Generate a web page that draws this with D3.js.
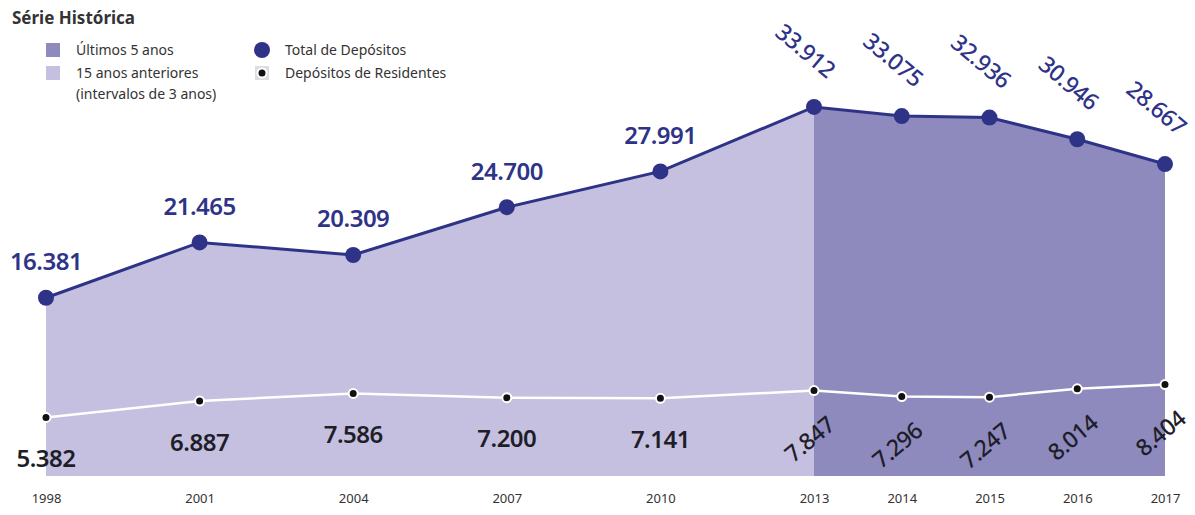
<!DOCTYPE html>
<html>
<head>
<meta charset="utf-8">
<script src="https://cdn.jsdelivr.net/npm/d3@7"></script>
<style>
  body { margin: 0; background: #fff; }
  svg { font-family: "Noto Sans", "Open Sans", sans-serif; }
</style>
</head>
<body>
<svg id="chart" width="1195" height="515"></svg>
<script>
// data
const years = [1998, 2001, 2004, 2007, 2010, 2013, 2014, 2015, 2016, 2017];
const totalDepositos = [16381, 21465, 20309, 24700, 27991, 33912, 33075, 32936, 30946, 28667];
const depositosResidentes = [5382, 6887, 7586, 7200, 7141, 7847, 7296, 7247, 8014, 8404];
const valueLabels = v => d3.format(",")(v).replace(",", ".");

const W = 1195, H = 515;
const DARK = "#2e3388";
const LIGHT_FILL = "#c5c0df";
const DARK_FILL = "#8e8abd";

const svg = d3.select("#chart");

// 3-year steps up to 2013, then yearly
const x = d3.scaleLinear()
  .domain([1998, 2013, 2017])
  .range([46, 814, 1165]);

const y = d3.scaleLinear()
  .domain([0, 34000])
  .range([476, 106]);

const rows = years.map((yr, i) => ({ year: yr, total: totalDepositos[i], res: depositosResidentes[i] }));
const splitIdx = years.indexOf(2013);

const area = d3.area()
  .x(d => x(d.year))
  .y0(y(0))
  .y1(d => y(d.total));

svg.append("path")
  .datum(rows.slice(0, splitIdx + 1))
  .attr("fill", LIGHT_FILL)
  .attr("d", area);

svg.append("path")
  .datum(rows.slice(splitIdx))
  .attr("fill", DARK_FILL)
  .attr("d", area);

// total line
const lineTotal = d3.line().x(d => x(d.year)).y(d => y(d.total));
svg.append("path")
  .datum(rows)
  .attr("fill", "none")
  .attr("stroke", DARK)
  .attr("stroke-width", 3)
  .attr("d", lineTotal);

svg.selectAll(".dot-total")
  .data(rows)
  .enter().append("circle")
  .attr("class", "dot-total")
  .attr("cx", d => x(d.year))
  .attr("cy", d => y(d.total))
  .attr("r", 8)
  .attr("fill", DARK);

// residents line
const lineRes = d3.line().x(d => x(d.year)).y(d => y(d.res));
svg.append("path")
  .datum(rows)
  .attr("fill", "none")
  .attr("stroke", "#fff")
  .attr("stroke-width", 2.5)
  .attr("d", lineRes);

svg.selectAll(".dot-res")
  .data(rows)
  .enter().append("circle")
  .attr("class", "dot-res")
  .attr("cx", d => x(d.year))
  .attr("cy", d => y(d.res))
  .attr("r", 4.5)
  .attr("fill", "#111")
  .attr("stroke", "#fff")
  .attr("stroke-width", 2);

// total labels
svg.selectAll(".lbl-total")
  .data(rows)
  .enter().append("text")
  .attr("class", "lbl-total")
  .attr("font-size", (d, i) => i < splitIdx ? 24 : 23)
  .attr("font-weight", (d, i) => i < splitIdx ? 600 : 500)
  .attr("letter-spacing", -0.5)
  .attr("fill", DARK)
  .attr("text-anchor", "middle")
  .attr("dominant-baseline", "central")
  .attr("transform", (d, i) => i < splitIdx
    ? `translate(${x(d.year)},${y(d.total) - 37})`
    : `translate(${x(d.year) - 8},${y(d.total) - 57}) rotate(40)`)
  .text(d => valueLabels(d.total));

// residents labels
svg.selectAll(".lbl-res")
  .data(rows)
  .enter().append("text")
  .attr("class", "lbl-res")
  .attr("font-size", (d, i) => i < splitIdx ? 24 : 23)
  .attr("font-weight", (d, i) => i < splitIdx ? 600 : 500)
  .attr("letter-spacing", -0.5)
  .attr("fill", "#1e1e2a")
  .attr("text-anchor", "middle")
  .attr("dominant-baseline", "central")
  .attr("transform", (d, i) => i < splitIdx
    ? `translate(${x(d.year)},${y(d.res) + 40})`
    : `translate(${x(d.year) - 5},${y(d.res) + 48}) rotate(-40)`)
  .text(d => valueLabels(d.res));

// x axis labels
const xAxis = d3.axisBottom(x)
  .tickValues(years)
  .tickFormat(d3.format("d"))
  .tickSize(0)
  .tickPadding(0);

const gx = svg.append("g")
  .attr("transform", "translate(0,494)")
  .call(xAxis);
gx.select(".domain").remove();
gx.selectAll("text")
  .attr("font-size", 13)
  .attr("font-family", "Noto Sans, sans-serif")
  .attr("fill", "#333");

// legend
const lg = svg.append("g");
lg.append("text")
  .attr("x", 12).attr("y", 24)
  .attr("font-size", 17)
  .attr("font-weight", 700)
  .attr("fill", "#333")
  .text("Série Histórica");

lg.append("rect").attr("x", 46).attr("y", 43).attr("width", 14).attr("height", 14).attr("fill", DARK_FILL);
lg.append("rect").attr("x", 46).attr("y", 66).attr("width", 14).attr("height", 14).attr("fill", LIGHT_FILL);
const legText = [
  { x: 76, y: 55, t: "Últimos 5 anos" },
  { x: 76, y: 78, t: "15 anos anteriores" },
  { x: 76, y: 99, t: "(intervalos de 3 anos)" },
  { x: 285, y: 55, t: "Total de Depósitos" },
  { x: 285, y: 78, t: "Depósitos de Residentes" }
];
lg.selectAll(".lt")
  .data(legText)
  .enter().append("text")
  .attr("class", "lt")
  .attr("x", d => d.x).attr("y", d => d.y)
  .attr("font-size", 14)
  .attr("fill", "#333")
  .text(d => d.t);

lg.append("circle").attr("cx", 262).attr("cy", 50).attr("r", 8).attr("fill", DARK);
lg.append("rect").attr("x", 255).attr("y", 66).attr("width", 14).attr("height", 14).attr("fill", "#dcdce4");
lg.append("circle").attr("cx", 262).attr("cy", 73).attr("r", 4.5).attr("fill", "#111").attr("stroke", "#fff").attr("stroke-width", 2);
</script>
</body>
</html>
